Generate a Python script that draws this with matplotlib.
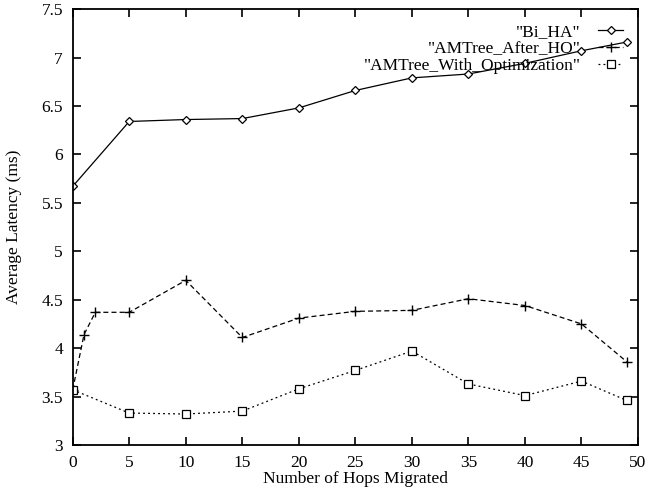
import matplotlib
matplotlib.use("Agg")
import matplotlib.pyplot as plt
from matplotlib.ticker import FormatStrFormatter, MultipleLocator

plt.rcParams['font.family'] = ['Liberation Serif', 'DejaVu Serif']

# latency (ms) against number of hops migrated
hops_bi = [0, 5, 10, 15, 20, 25, 30, 35, 40, 45, 49]
bi_ha = [5.67, 6.34, 6.36, 6.37, 6.48, 6.66, 6.79, 6.83, 6.94, 7.07, 7.16]

hops_ho = [0, 1, 2, 5, 10, 15, 20, 25, 30, 35, 40, 45, 49]
after_ho = [3.57, 4.14, 4.37, 4.37, 4.70, 4.11, 4.31, 4.38, 4.39, 4.51, 4.44, 4.25, 3.86]

hops_opt = [0, 5, 10, 15, 20, 25, 30, 35, 40, 45, 49]
with_opt = [3.57, 3.33, 3.32, 3.35, 3.58, 3.77, 3.97, 3.63, 3.51, 3.66, 3.46]

fig = plt.figure(figsize=(6.48, 4.92), dpi=100)
ax = fig.add_axes([0.1122, 0.0955, 0.8724, 0.886])

ax.plot(hops_bi, bi_ha, color='black', lw=0.9, ls='-', marker='D',
        ms=3.6, mfc='white', mec='black', mew=0.9, label='"Bi_HA"')
ax.plot(hops_ho, after_ho, color='black', lw=0.9, ls=(0, (4, 2.5)), marker='+',
        ms=7, mew=1.0, label='"AMTree_After_HO"')
ax.plot(hops_opt, with_opt, color='black', lw=0.9, ls=(0, (1.5, 2.5)), marker='s',
        ms=5.5, mfc='white', mec='black', mew=0.9, label='"AMTree_With_Optimization"')

ax.set_xlim(0, 50)
ax.set_ylim(3, 7.5)
ax.xaxis.set_major_locator(MultipleLocator(5))
ax.yaxis.set_major_locator(MultipleLocator(0.5))
ax.yaxis.set_major_formatter(FormatStrFormatter('%g'))
ax.tick_params(direction='in', length=6, width=1.2, top=True, right=True,
               labelsize=12.5, pad=7)
for s in ax.spines.values():
    s.set_linewidth(1.3)

ax.set_xlabel('Number of Hops Migrated', fontsize=12.5, labelpad=0)
ax.set_ylabel('Average Latency (ms)', fontsize=12.5, labelpad=14)

ax.legend(loc='upper right', frameon=False, markerfirst=False, fontsize=12.5,
          handlelength=1.45, handletextpad=1.0, labelspacing=0.05,
          borderaxespad=0.55, borderpad=0.3, numpoints=1)

fig.savefig('out.png', dpi=100)
